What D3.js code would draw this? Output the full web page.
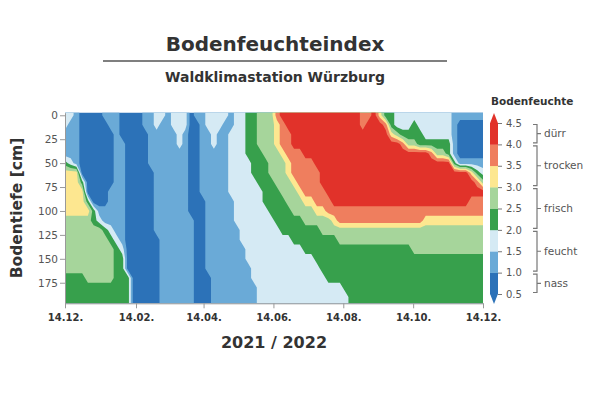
<!DOCTYPE html>
<html><head><meta charset="utf-8">
<script src="https://cdn.jsdelivr.net/npm/d3@7"></script>
<style>
body{margin:0;background:#fff}
svg{display:block}
text{font-family:"DejaVu Sans",sans-serif}
</style>
</head><body>
<svg id="c" width="600" height="399"></svg>
<script>
// ---------------- data ----------------
// measurement depths (cm), one row of the grid per depth
const depths = [0,10,20,30,40,50,60,70,80,90,100,110,120,130,140,150,160,170,180,190];
// columns: one every 5 days from 14.12.2021 to 14.12.2022
const dayStep = 5;
const startDate = new Date(Date.UTC(2021, 11, 14));
const endDate = new Date(Date.UTC(2022, 11, 14));
const tickDates = ["2021-12-14","2022-02-14","2022-04-14","2022-06-14","2022-08-14","2022-10-14","2022-12-14"];
const depthTicks = [0,25,50,75,100,125,150,175];
// index class per cell (1 = 0.5-1.0 ... 8 = 4.0-4.5), "d*n" = d repeated n times
const classRows = [
  "33 2 1111 222 1111 22 33 2 333 1 22 3333 2 33 44 555 7 8*14 77 8 6 44 3*10 2*6",
  "3 22 1*5 22 1111 22 3 22 333 11 2 333 22 33 44 555 6 7 8*13 7 8 88 7 4 333 4 3*6 2 1*5",
  "222 1*6 2 1*5 2*5 3 2 11 22 3 22 333 44 555 6 77 8*17 6 5 4444 3*5 2 1*5",
  "222 1*6 22 1111 2*5 3 2 11 22 3 22 333 44 555 6 77 8*19 7 55 4*6 2 1*5",
  "222 1*6 22 1111 2*7 11 2*5 333 444 555 6 777 8*22 7 55 4 2 1*5",
  "4 3 2 1*6 22 1111 2*7 11 2*5 3333 444 555 6 7777 8*24 4 2*5",
  "666 1*6 22 1*5 2*6 11 2*5 3333 444 555 6 7*5 8*26 6 4 3",
  "666 4 1*5 22 1*5 2*6 11 2*5 3*5 444 555 6 7777 8*27 7 5",
  "6666 1111 222 1*5 2*6 11 2*5 3*6 444 555 6 7777 8*28",
  "6666 4 111 222 1*5 2*6 111 2*5 3*5 4444 555 66 777 8*24 777",
  "6*5 4 2*5 1*5 2*6 111 2*5 3*6 4444 5555 66 7*28",
  "5*5 4 3 2222 1*5 2*7 11 2*5 3*7 4*5 5*5 6 7*15 6*11",
  "5*7 4 3 22 1*5 2*7 11 2*6 3*7 4*7 5*29",
  "5*8 4 3 2 1*6 2*6 11 2*6 3*9 4*8 5*26",
  "5*9 4 3 1*6 2*6 11 2*7 3*10 4*19 5*13",
  "5*9 44 1*6 2*6 11 2*7 3*12 4*30",
  "5*9 44 1*6 2*6 11 2*8 3*12 4*29",
  "4444 5*5 444 1*5 2*6 111 2*7 3*13 4*28",
  "4*12 1*5 2*6 111 2*8 3*15 4*25",
  "4*12 1*5 2*6 111 2*8 3*16 4*24"
];
const classValues = [null, 0.75, 1.25, 1.75, 2.25, 2.75, 3.25, 3.75, 4.25];
const levels = [0.5,1.0,1.5,2.0,2.5,3.0,3.5,4.0,4.5];
const bandColors = ["#2c72b8","#6aaad7","#d5eaf4","#37a04c","#a6d59b","#fde790","#ef7e5e","#e1322a"];
const zoneNames = ["nass","feucht","frisch","trocken","dürr"];
const zoneBounds = [0.5,1.0,2.0,3.0,4.0,4.5];
const depthDomain = [-2.7, 196.5];

// ---------------- build grid ----------------
function expandRow(s){
  return s.trim().split(/\s+/).map(t => {
    if (t.includes("*")) { const [d, n] = t.split("*"); return d.repeat(+n); }
    return t;
  }).join("");
}
const nCols = Math.round((endDate - startDate) / 864e5 / dayStep) + 1;
const grid = classRows.map(expandRow).map(r => {
  if (r.length !== nCols) console.warn("row length", r.length);
  return Array.from(r.padEnd(nCols, r[r.length-1]).slice(0, nCols), c => classValues[+c]);
});
const rowsExt = [grid[0], ...grid, grid[grid.length-1]];
const depthExt = [depths[0]-10, ...depths, depths[depths.length-1]+10];
const ny = rowsExt.length;
const values = rowsExt.flat();

// ---------------- scales ----------------
const svg = d3.select("#c");
const xs = d3.scaleUtc().domain([startDate, endDate]).range([65, 483]);
const ys = d3.scaleLinear().domain(depthDomain).range([112.7, 303.3]);

const depthAt = r => {
  const k = Math.max(0, Math.min(ny-2, Math.floor(r)));
  const f = r - k;
  return depthExt[k] + f * (depthExt[k+1] - depthExt[k]);
};
const proj = d3.geoTransform({
  point(x, y) {
    this.stream.point(xs(new Date(+startDate + (x - 0.5) * dayStep * 864e5)), ys(depthAt(y - 0.5)));
  }
});
const geo = d3.geoPath(proj);

const contours = d3.contours().size([nCols, ny]).thresholds(levels.slice(0, -1))(values);

const x0 = xs(startDate), x1 = xs(endDate), y0 = ys(depthDomain[0]), y1 = ys(depthDomain[1]);
svg.append("defs").append("clipPath").attr("id", "plotclip")
  .append("rect").attr("x", x0).attr("y", y0).attr("width", x1 - x0).attr("height", y1 - y0);

svg.append("g").attr("clip-path", "url(#plotclip)")
  .selectAll("path").data(contours).join("path")
  .attr("d", geo)
  .attr("fill", (d, i) => bandColors[i])
  .attr("fill-rule", "evenodd");

// ---------------- axes ----------------
const gx = svg.append("g").attr("transform", `translate(0,${y1})`)
  .call(d3.axisBottom(xs).tickValues(tickDates.map(s => new Date(s + "T00:00:00Z")))
    .tickFormat(d3.utcFormat("%d.%m.")).tickSize(5).tickSizeOuter(0).tickPadding(6));
gx.attr("font-family", "DejaVu Sans");
gx.select(".domain").attr("stroke", "#999");
gx.selectAll(".tick line").attr("stroke", "#999");
gx.selectAll(".tick text").attr("font-size", 10).attr("font-weight", "bold").attr("fill", "#333");

const gy = svg.append("g").attr("transform", `translate(${x0},0)`)
  .call(d3.axisLeft(ys).tickValues(depthTicks).tickSize(5).tickSizeOuter(0).tickPadding(2));
gy.attr("font-family", "DejaVu Sans");
gy.select(".domain").attr("stroke", "#999");
gy.selectAll(".tick line").attr("stroke", "#999");
gy.selectAll(".tick text").attr("font-size", 10.5).attr("fill", "#555");

svg.append("text").attr("transform", `translate(22,${(y0 + y1) / 2}) rotate(-90)`)
  .attr("text-anchor", "middle").attr("font-size", 15.5).attr("font-weight", "bold").attr("fill", "#333")
  .text("Bodentiefe [cm]");
svg.append("text").attr("x", (x0 + x1) / 2).attr("y", 348)
  .attr("text-anchor", "middle").attr("font-size", 16).attr("font-weight", "bold").attr("fill", "#333")
  .text("2021 / 2022");

// ---------------- titles ----------------
svg.append("text").attr("x", 275).attr("y", 51).attr("text-anchor", "middle")
  .attr("font-size", 20).attr("font-weight", "bold").attr("fill", "#333").text("Bodenfeuchteindex");
svg.append("line").attr("x1", 103).attr("x2", 447).attr("y1", 61).attr("y2", 61)
  .attr("stroke", "#555").attr("stroke-width", 1.3);
svg.append("text").attr("x", 275).attr("y", 82).attr("text-anchor", "middle")
  .attr("font-size", 14).attr("font-weight", "bold").attr("fill", "#333").text("Waldklimastation Würzburg");

// ---------------- colorbar ----------------
const cs = d3.scaleLinear().domain([levels[0], levels[levels.length-1]]).range([294, 123]);
const cbx = 490, cbw = 8;
const cb = svg.append("g");
cb.selectAll("rect").data(d3.pairs(levels)).join("rect")
  .attr("x", cbx).attr("width", cbw)
  .attr("y", d => cs(d[1])).attr("height", d => cs(d[0]) - cs(d[1]) + 0.3)
  .attr("fill", (d, i) => bandColors[i]);
const topY = cs(levels[levels.length-1]), botY = cs(levels[0]);
cb.append("path").attr("d", `M${cbx},${topY + 0.3}L${cbx + cbw / 2},${topY - 10}L${cbx + cbw},${topY + 0.3}Z`)
  .attr("fill", bandColors[bandColors.length-1]);
cb.append("path").attr("d", `M${cbx},${botY - 0.3}L${cbx + cbw / 2},${botY + 10}L${cbx + cbw},${botY - 0.3}Z`)
  .attr("fill", bandColors[0]);
const ca = svg.append("g").attr("transform", `translate(${cbx + cbw},0)`)
  .call(d3.axisRight(cs).tickValues(levels).tickFormat(d3.format(".1f")).tickSize(4).tickSizeOuter(0).tickPadding(4));
ca.attr("font-family", "DejaVu Sans");
ca.select(".domain").remove();
ca.selectAll(".tick line").attr("stroke", "#777");
ca.selectAll(".tick text").attr("font-size", 10).attr("fill", "#555");

svg.append("text").attr("x", 491).attr("y", 105).attr("font-size", 10.5).attr("font-weight", "bold")
  .attr("fill", "#333").text("Bodenfeuchte");

const bx = 537;
const zones = svg.append("g");
zoneNames.forEach((name, i) => {
  const yt = cs(zoneBounds[i + 1]) + 1.5, yb = cs(zoneBounds[i]) - 1.5, ym = (yt + yb) / 2;
  zones.append("path").attr("d", `M${bx - 4},${yt}H${bx}V${yb}H${bx - 4}M${bx},${ym}H${bx + 4}`)
    .attr("fill", "none").attr("stroke", "#777").attr("stroke-width", 1.2);
  zones.append("text").attr("x", bx + 7).attr("y", ym).attr("dy", "0.35em")
    .attr("font-size", 10.5).attr("fill", "#555").text(name);
});
</script>
</body></html>
